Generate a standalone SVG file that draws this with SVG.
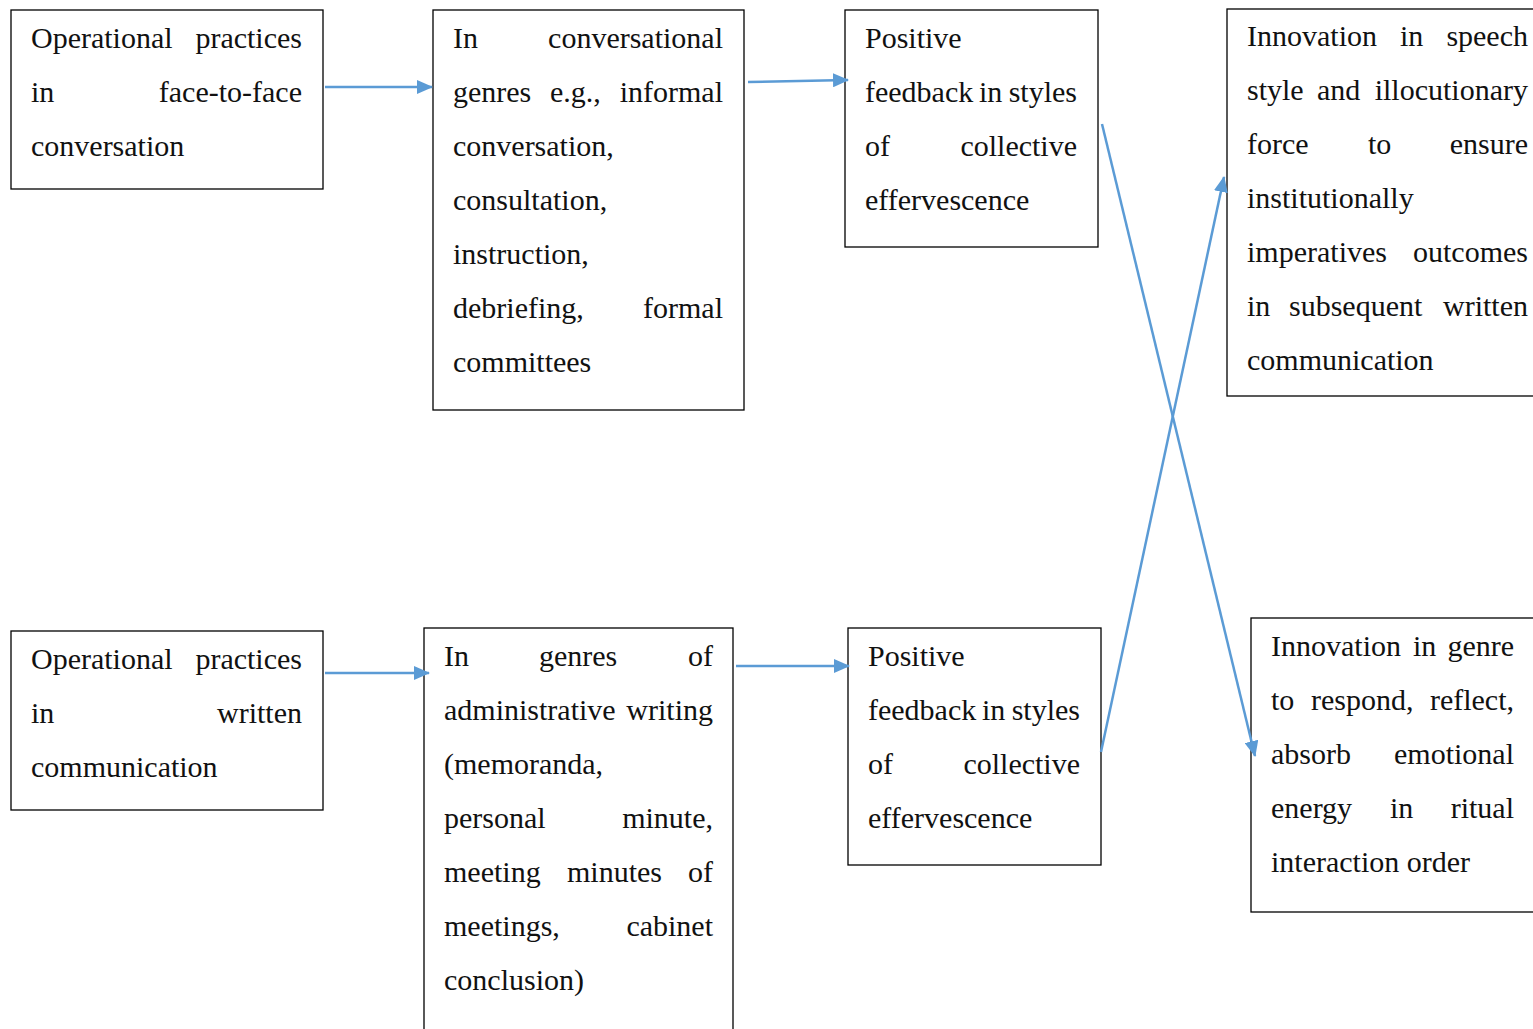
<svg xmlns="http://www.w3.org/2000/svg" width="1533" height="1029" viewBox="0 0 1533 1029">
<defs>
<style>
.box{fill:#fff;stroke:#000;stroke-width:1.3}
.t text{font-size:30px;fill:#111}
.e{text-anchor:end}
.c{stroke:#5B9BD5;stroke-width:2.5;fill:none}
</style>
<marker id="ah" markerUnits="userSpaceOnUse" markerWidth="16" markerHeight="14" refX="15" refY="7" orient="auto">
<path d="M0,0 L16,7 L0,14 Z" fill="#5B9BD5"/>
</marker>
</defs>
<rect width="1533" height="1029" fill="#fff"/>
<g class="t" font-family="Liberation Serif, Times New Roman, DejaVu Serif, serif">
<g id="n1">
<rect class="box" x="11" y="10" width="312" height="179"/>
<text x="31" y="48">Operational</text><text class="e" x="302" y="48">practices</text>
<text x="31" y="102">in</text><text class="e" x="302" y="102">face-to-face</text>
<text x="31" y="156">conversation</text>
</g>

<g id="n2">
<rect class="box" x="433" y="10" width="311" height="400"/>
<text x="453" y="48">In</text><text class="e" x="723" y="48">conversational</text>
<text x="453" y="102">genres</text><text x="550" y="102">e.g.,</text><text class="e" x="723" y="102">informal</text>
<text x="453" y="156">conversation,</text>
<text x="453" y="210">consultation,</text>
<text x="453" y="264">instruction,</text>
<text x="453" y="318">debriefing,</text><text class="e" x="723" y="318">formal</text>
<text x="453" y="372">committees</text>
</g>

<g id="n3">
<rect class="box" x="845" y="10" width="253" height="237"/>
<text x="865" y="48">Positive</text>
<text x="865" y="102">feedback</text><text x="979" y="102">in</text><text class="e" x="1077" y="102">styles</text>
<text x="865" y="156">of</text><text class="e" x="1077" y="156">collective</text>
<text x="865" y="210">effervescence</text>
</g>

<g id="n4">
<rect class="box" x="1227" y="9" width="320" height="387"/>
<text x="1247" y="46">Innovation</text><text x="1400" y="46">in</text><text class="e" x="1528" y="46">speech</text>
<text x="1247" y="100">style</text><text x="1317" y="100">and</text><text class="e" x="1528" y="100">illocutionary</text>
<text x="1247" y="154">force</text><text x="1368" y="154">to</text><text class="e" x="1528" y="154">ensure</text>
<text x="1247" y="208">institutionally</text>
<text x="1247" y="262">imperatives</text><text class="e" x="1528" y="262">outcomes</text>
<text x="1247" y="316">in</text><text x="1289" y="316">subsequent</text><text class="e" x="1528" y="316">written</text>
<text x="1247" y="370">communication</text>
</g>

<g id="n5">
<rect class="box" x="11" y="631" width="312" height="179"/>
<text x="31" y="669">Operational</text><text class="e" x="302" y="669">practices</text>
<text x="31" y="723">in</text><text class="e" x="302" y="723">written</text>
<text x="31" y="777">communication</text>
</g>

<g id="n6">
<rect class="box" x="424" y="628" width="309" height="420"/>
<text x="444" y="666">In</text><text x="539" y="666">genres</text><text class="e" x="713" y="666">of</text>
<text x="444" y="720">administrative</text><text class="e" x="713" y="720">writing</text>
<text x="444" y="774">(memoranda,</text>
<text x="444" y="828">personal</text><text class="e" x="713" y="828">minute,</text>
<text x="444" y="882">meeting</text><text x="567" y="882">minutes</text><text class="e" x="713" y="882">of</text>
<text x="444" y="936">meetings,</text><text class="e" x="713" y="936">cabinet</text>
<text x="444" y="990">conclusion)</text>
</g>

<g id="n7">
<rect class="box" x="848" y="628" width="253" height="237"/>
<text x="868" y="666">Positive</text>
<text x="868" y="720">feedback</text><text x="982" y="720">in</text><text class="e" x="1080" y="720">styles</text>
<text x="868" y="774">of</text><text class="e" x="1080" y="774">collective</text>
<text x="868" y="828">effervescence</text>
</g>

<g id="n8">
<rect class="box" x="1251" y="618" width="300" height="294"/>
<text x="1271" y="656">Innovation</text><text x="1413" y="656">in</text><text class="e" x="1514" y="656">genre</text>
<text x="1271" y="710">to</text><text x="1311" y="710">respond,</text><text class="e" x="1514" y="710">reflect,</text>
<text x="1271" y="764">absorb</text><text class="e" x="1514" y="764">emotional</text>
<text x="1271" y="818">energy</text><text x="1390" y="818">in</text><text class="e" x="1514" y="818">ritual</text>
<text x="1271" y="872">interaction order</text>
</g>
</g>
<g id="connectors">
<line class="c" x1="325" y1="87" x2="432" y2="87" marker-end="url(#ah)"/>
<line class="c" x1="748" y1="82" x2="848" y2="80" marker-end="url(#ah)"/>
<line class="c" x1="325" y1="673" x2="429" y2="673" marker-end="url(#ah)"/>
<line class="c" x1="736" y1="666" x2="849" y2="666" marker-end="url(#ah)"/>
<line class="c" x1="1102" y1="124" x2="1255" y2="756" marker-end="url(#ah)"/>
<line class="c" x1="1101" y1="752" x2="1224" y2="177" marker-end="url(#ah)"/>
</g>
</svg>
